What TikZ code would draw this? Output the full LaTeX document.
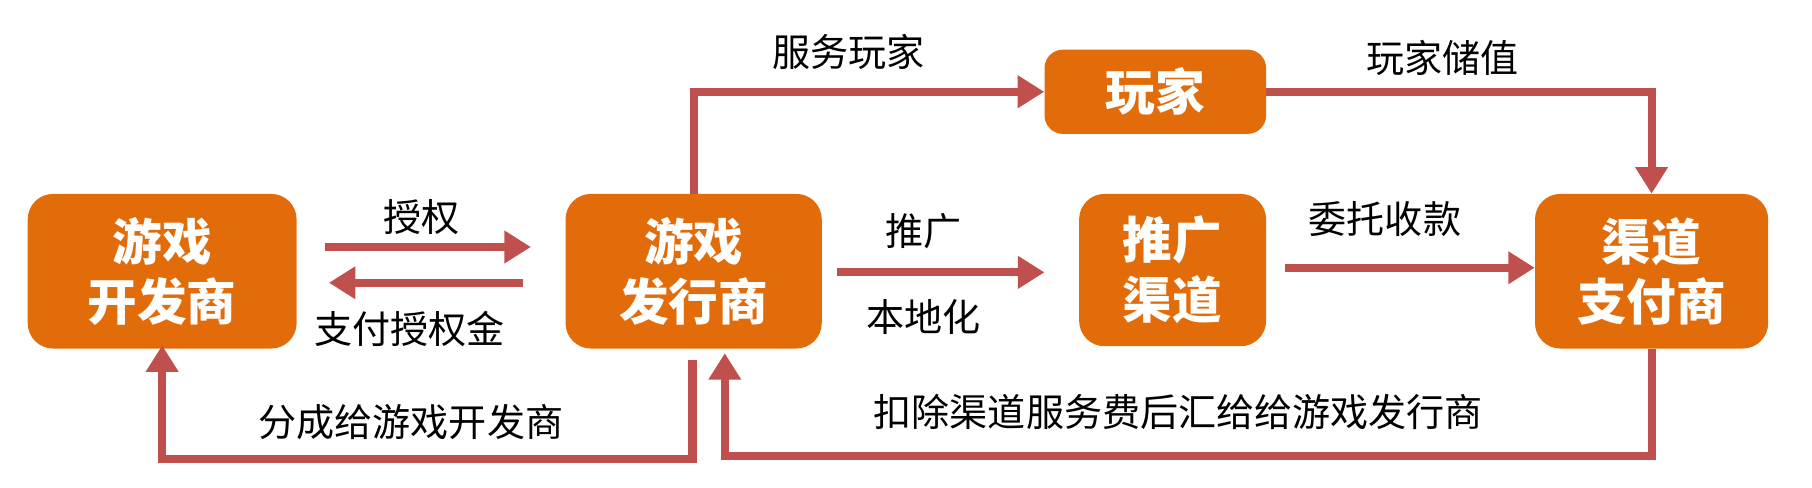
\documentclass[tikz,border=0pt]{standalone}
\usepackage{fontspec}
\setmainfont{Noto Sans CJK SC}
\usetikzlibrary{arrows.meta}
\definecolor{boxorange}{HTML}{E36C0A}
\definecolor{arrowred}{HTML}{C0504D}
\begin{document}
\begin{tikzpicture}[x=1pt,y=-1pt,
  box/.style={draw=none,fill=boxorange,rounded corners=22pt,text=white,align=center,
    font=\fontsize{43}{52}\selectfont\bfseries,inner sep=0pt},
  lbl/.style={text=black,font=\fontsize{33}{40}\selectfont,inner sep=0pt},
  conn/.style={draw=arrowred,line width=7pt,-{Triangle[length=23pt,width=27pt]}}]
\useasboundingbox (0,0) rectangle (1570,422);
% boxes
\node[box,minimum width=233pt,minimum height=134pt] (dev) at (140.5,235) {游戏\\开发商};
\node[box,minimum width=222pt,minimum height=134pt] (pub) at (601,235) {游戏\\发行商};
\node[box,minimum width=162pt,minimum height=132pt] (promo) at (1016,234) {推广\\渠道};
\node[box,minimum width=202pt,minimum height=134pt] (pay) at (1431,235) {渠道\\支付商};
\node[box,minimum width=192pt,minimum height=73pt,rounded corners=16pt] (player) at (1001,79.5) {玩家};
% free ends
\coordinate (a1s) at (282,214); \coordinate (a1e) at (460,214);
\coordinate (a2s) at (453,245); \coordinate (a2e) at (285,245);
\coordinate (a3s) at (725,236); \coordinate (a3e) at (905,236);
\coordinate (a4s) at (1113,232);
\coordinate (b1s) at (600,312); \coordinate (b1c) at (600,398);
\coordinate (b2c) at (1431,395); \coordinate (b2e) at (628,306);
% connectors
\draw[conn] (a1s) -- (a1e);
\draw[conn] (a2s) -- (a2e);
\draw[conn] (a3s) -- (a3e);
\draw[conn] (a4s) -- (a4s -| pay.west);
\draw[conn] (pub.north) |- (player.west);
\draw[conn] (player.east) -| (pay.north);
\draw[conn] (b1s) -- (b1c) -| ([yshift=3pt]dev.south);
\draw[conn] (pay.south) -- (b2c) -| (b2e);
% labels
\node[lbl] (l1) at (365,188) {授权};
\node[lbl] (l2) at (355,285) {支付授权金};
\node[lbl] (l3) at (800,200) {推广};
\node[lbl] (l4) at (800,275) {本地化};
\node[lbl] (l5) at (735,45) {服务玩家};
\node[lbl] (l6) at (1250,50) {玩家储值};
\node[lbl] (l7) at (1200,190) {委托收款};
\node[lbl] (l8) at (356,366) {分成给游戏开发商};
\node[lbl] (l9) at (1021,357) {扣除渠道服务费后汇给给游戏发行商};
\end{tikzpicture}
\end{document}
